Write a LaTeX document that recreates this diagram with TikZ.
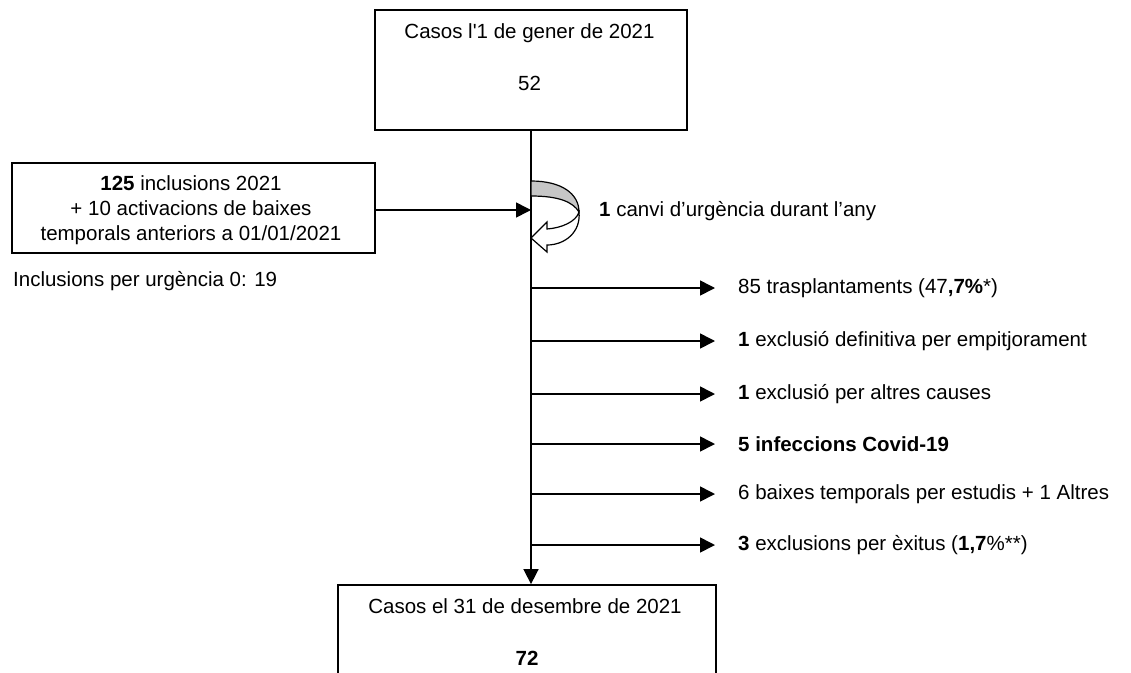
\documentclass[tikz,border=0pt]{standalone}
\usepackage{fontspec}
\setmainfont{Liberation Sans}
\usetikzlibrary{arrows.meta}
\begin{document}
\begin{tikzpicture}[x=1pt,y=-1pt,
  font=\fontsize{20.5}{24}\selectfont,
  box/.style={draw, line width=1.8pt, inner sep=0pt},
  conn/.style={line width=1.6pt, -{Triangle[length=15pt,width=15pt]}},
  lbl/.style={anchor=west, inner sep=0pt}]
\useasboundingbox (0,0) rectangle (1131,672);
% boxes
\node[box, minimum width=312pt, minimum height=120pt] (top) at (531,70) {};
\node (toptxt) at (529.5,33) {Casos l\textquotesingle 1 de gener de 2021};
\node (topnum) at (529.5,83) {52};
\node[box, minimum width=363pt, minimum height=90pt] (left) at (193.5,208) {};
\node[align=center, font=\fontsize{20.5}{25}\selectfont] (lefttxt) at (191,210)
  {\textbf{125} inclusions 2021\\+ 10 activacions de baixes\\temporals anteriors a 01/01/2021};
\node[box, minimum width=378pt, minimum height=120pt] (bot) at (527,645) {};
\node (bottxt) at (525,606) {Casos el 31 de desembre de 2021};
\node (botnum) at (527,658) {\textbf{72}};
\node[lbl] (urg) at (13,281) {Inclusions per urgència 0: 19};
% main line
\coordinate (mx) at (531,0);
\draw[conn] (top.south -| mx) -- (bot.north -| mx);
% inclusion arrow
\coordinate (inpt) at (531,210);
\draw[conn] (left.east |- inpt) -- (inpt);
% curved arrow
\fill[gray!45, draw=black, line width=1.2pt]
  (531,181) .. controls (562,181) and (579,194) .. (579,212)
  .. controls (573,202) and (559,196) .. (531,196) -- cycle;
\filldraw[fill=white, draw=black, line width=1.2pt]
  (579,212) .. controls (581,232) and (565,245) .. (547,245)
  -- (547,252) -- (531,238) -- (547,222) -- (547,229)
  .. controls (561,228) and (576,222) .. (579,212) -- cycle;
\node[lbl] (canvi) at (599,211) {\textbf{1} canvi d’urgència durant l’any};
% branches
\coordinate (b1) at (531,288);
\coordinate (b2) at (531,341);
\coordinate (b3) at (531,394);
\coordinate (b4) at (531,444);
\coordinate (b5) at (531,494);
\coordinate (b6) at (531,545);
\node[lbl] (l1) at (738,288) {85 trasplantaments (47\textbf{,7\%}*)};
\node[lbl] (l2) at (738,341) {\textbf{1} exclusió definitiva per empitjorament};
\node[lbl] (l3) at (738,394) {\textbf{1} exclusió per altres causes};
\node[lbl] (l4) at (738,444) {\textbf{5 infeccions Covid-19}};
\node[lbl] (l5) at (738,494) {6 baixes temporals per estudis + 1 Altres};
\node[lbl] (l6) at (738,545) {\textbf{3} exclusions per èxitus (\textbf{1,7}\%**)};
\foreach \i in {1,...,6} {
  \draw[conn] (b\i) -- ([xshift=-23pt]l\i.west);
}
\end{tikzpicture}
\end{document}
